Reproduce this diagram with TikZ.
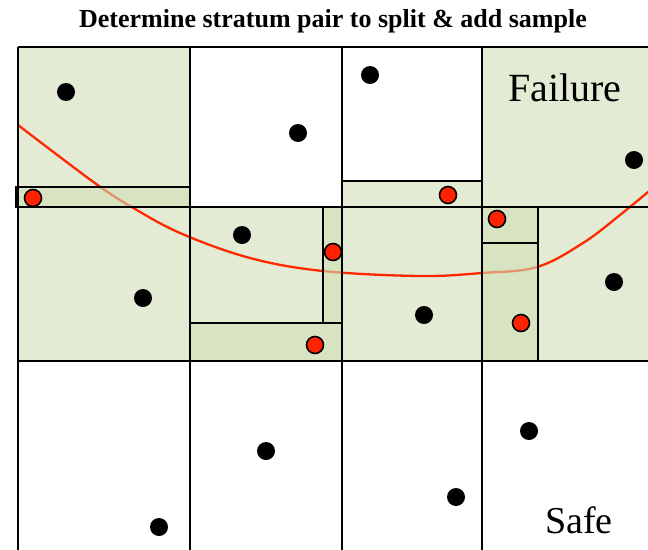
\documentclass[tikz,border=0pt]{standalone}
\usepackage{fontspec}
\setmainfont{Liberation Serif}
\definecolor{lgreen}{RGB}{228,235,213}
\definecolor{dgreen}{RGB}{208,222,180}
\definecolor{curvered}{RGB}{255,40,0}
\definecolor{dotred}{RGB}{255,34,0}
\begin{document}
\begin{tikzpicture}[x=1pt,y=-1pt,
  gridline/.style={black,line width=2.4pt},
  stripbox/.style={fill=dgreen,fill opacity=0.6,draw=black,draw opacity=1,line width=2.4pt},
  thinstrip/.style={fill=dgreen,fill opacity=0.6,draw=black,draw opacity=1,line width=1.7pt},
  bdot/.style={circle,fill=black,inner sep=0pt,minimum size=18pt},
  rdot/.style={circle,fill=dotred,draw=black,line width=1.6pt,inner sep=0pt,minimum size=17pt}]
\useasboundingbox (0,0) rectangle (648,549);
\begin{scope}
\clip (0,0) rectangle (648,549);
% green regions
\fill[lgreen] (18,47) rectangle (190,207);
\fill[lgreen] (482,47) rectangle (660,207);
\fill[lgreen] (18,207) rectangle (660,361);
% failure boundary
\draw[curvered,line width=2.3pt] plot[smooth,tension=0.6] coordinates {(18,125) (60,157) (100,186.7) (130,206) (180,233) (250,258) (323,271) (420,276) (482,273) (537,267) (583,243) (620,215) (660,182)};
% strips
\draw[stripbox] (16,187) rectangle (190,207);
\draw[stripbox] (342,181) rectangle (482,207);
\draw[thinstrip] (323,207) rectangle (342,323);
\draw[stripbox] (190,323) rectangle (342,361);
\draw[thinstrip] (482,243) rectangle (538,361);
\draw[thinstrip] (482,207) rectangle (538,243);
% grid
\draw[gridline] (18,47) -- (660,47);
\draw[gridline] (18,207) -- (660,207);
\draw[gridline] (18,361) -- (660,361);
\draw[gridline] (18,47) -- (18,560);
\draw[gridline] (190,47) -- (190,560);
\draw[gridline] (342,47) -- (342,560);
\draw[gridline] (482,47) -- (482,560);
% black samples
\node[bdot] (b1) at (66,92) {};
\node[bdot] (b2) at (298,133) {};
\node[bdot] (b3) at (370,75) {};
\node[bdot] (b4) at (634,160) {};
\node[bdot] (b5) at (242,235) {};
\node[bdot] (b6) at (143,298) {};
\node[bdot] (b7) at (424,315) {};
\node[bdot] (b8) at (614,282) {};
\node[bdot] (b9) at (266,451) {};
\node[bdot] (b10) at (159,527) {};
\node[bdot] (b11) at (456,497) {};
\node[bdot] (b12) at (529,431) {};
% red samples
\node[rdot] (r1) at (33,198) {};
\node[rdot] (r2) at (333,252) {};
\node[rdot] (r3) at (315,345) {};
\node[rdot] (r4) at (448,195) {};
\node[rdot] (r5) at (497,219) {};
\node[rdot] (r6) at (521,323) {};
\end{scope}
% labels
\node[anchor=base,font=\fontsize{26}{30}\selectfont\bfseries,inner sep=0pt] (title) at (333,27) {Determine stratum pair to split \& add sample};
\node[anchor=base west,font=\fontsize{40}{44}\selectfont,inner sep=0pt] (fail) at (508,101) {Failure};
\node[anchor=base west,font=\fontsize{38}{42}\selectfont,inner sep=0pt] (safe) at (545,533) {Safe};
\end{tikzpicture}
\end{document}
